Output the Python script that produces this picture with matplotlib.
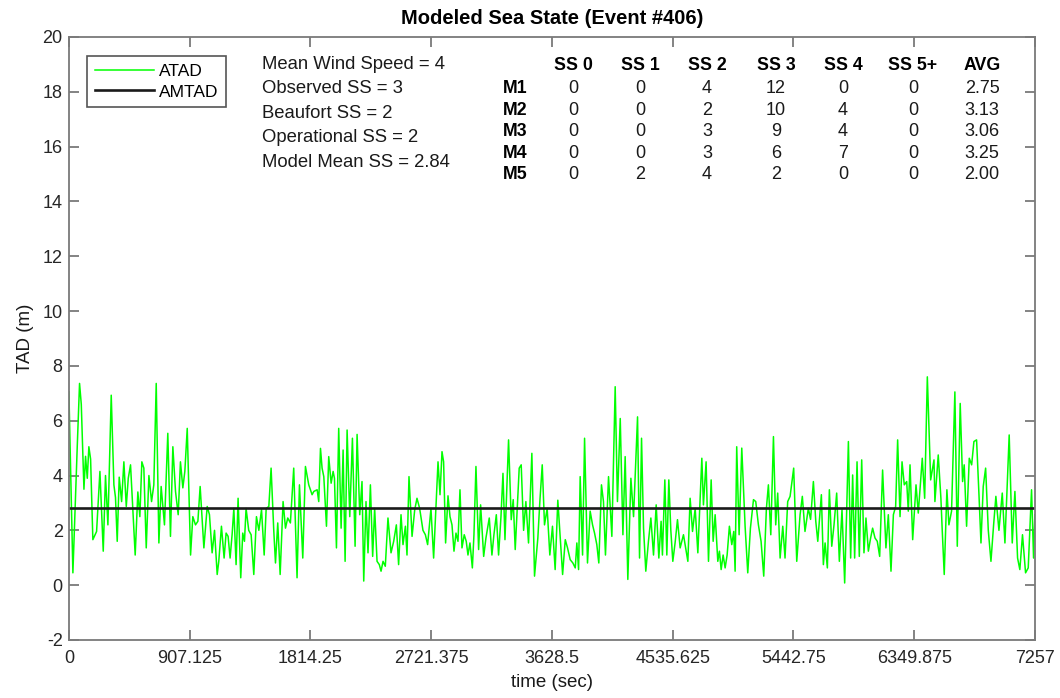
import matplotlib
matplotlib.use('Agg')
import matplotlib.pyplot as plt

plt.rcParams['font.family'] = ['Liberation Sans', 'DejaVu Sans']
plt.rcParams['axes.unicode_minus'] = False

# ATAD trace (time in seconds, TAD in metres)
t_sec = [
    0, 30, 63, 80, 93, 113, 125, 138, 150, 163, 180, 208, 233, 258, 275, 293, 318, 338, 350, 363,
    378, 396, 413, 431, 446, 463, 481, 498, 518, 533, 548, 563, 581, 601, 621, 638, 656, 676, 693, 718,
    743, 763, 781, 801, 821, 838, 856, 871,
    889, 914, 931, 951, 969, 986, 1014, 1039, 1056, 1076, 1094, 1114, 1126, 1146, 1166, 1181, 1196, 1211,
    1226, 1239, 1256, 1271, 1291, 1306, 1319, 1331, 1351, 1369, 1389, 1409, 1427, 1447, 1467, 1482, 1502,
    1519, 1539, 1552, 1569, 1587, 1609, 1627, 1644, 1664, 1689, 1714, 1732, 1757, 1777, 1802,
    1827, 1840, 1865, 1877, 1890, 1902, 1915, 1935, 1952, 1970, 1985, 1995, 2010, 2027, 2045, 2060, 2075,
    2090, 2110, 2130, 2150, 2165, 2185, 2202, 2215, 2232, 2247, 2265, 2282, 2297, 2315, 2332, 2345, 2360,
    2377, 2397, 2420, 2440, 2460, 2477, 2495, 2510, 2528, 2540, 2555, 2578, 2598, 2615, 2635, 2660, 2678,
    2695, 2720, 2740,
    2773, 2788, 2803, 2815, 2830, 2848, 2863, 2878, 2893, 2908, 2923, 2938, 2953, 2970, 2985, 2998, 3013,
    3031, 3043, 3058, 3078, 3093, 3116, 3133, 3158, 3178, 3193, 3211, 3228, 3246, 3261, 3276, 3303, 3323,
    3338, 3353, 3368, 3383, 3398, 3416, 3433, 3453, 3478, 3498, 3523, 3538, 3556, 3573, 3593, 3613, 3633,
    3653, 3673,
    3709, 3729, 3746, 3766, 3786, 3804, 3816, 3829, 3841, 3859, 3874, 3896, 3916, 3934, 3949, 3966, 3981,
    4001, 4016, 4031, 4054, 4079, 4104, 4121, 4142, 4162, 4179, 4199, 4222, 4242, 4272, 4287, 4302, 4317,
    4334, 4354, 4372, 4392, 4412, 4432, 4449, 4459, 4477, 4492, 4507, 4522, 4537, 4554, 4572, 4592, 4617,
    4650, 4667, 4685, 4705, 4725, 4755, 4767, 4787, 4805, 4825, 4840, 4855, 4875, 4887, 4900, 4915, 4930,
    4945, 4962, 4980, 4995, 5005, 5017, 5035, 5055, 5080, 5100, 5120, 5143, 5160, 5180, 5200, 5220, 5240,
    5255, 5273, 5293, 5310, 5325, 5343, 5363, 5380, 5400, 5418, 5445, 5468, 5493, 5510, 5530, 5555,
    5572, 5593, 5611, 5626, 5653, 5668, 5681, 5698, 5713, 5731, 5748, 5768, 5788, 5808, 5828, 5843, 5856,
    5873, 5888, 5903, 5921, 5938, 5956, 5973, 5988, 6006, 6023, 6038, 6056, 6073, 6091, 6113, 6138, 6156,
    6176, 6194, 6211, 6226, 6244, 6259, 6276, 6294, 6306, 6319, 6339, 6364, 6381, 6411, 6429, 6449, 6474,
    6499,
    6506, 6531, 6551, 6561, 6576, 6596, 6611, 6631, 6656, 6674, 6696, 6714, 6726, 6744, 6764, 6782, 6799,
    6819, 6837, 6852, 6869, 6887, 6907, 6927, 6947, 6964, 6987, 7012, 7032, 7064, 7087, 7107, 7127, 7144,
    7164, 7187, 7207, 7232, 7247, 7257,
]
atad = [
    7.05, 0.45, 5.1, 7.36, 6.6, 3.5, 4.7, 3.9, 5.05, 4.6, 1.66, 1.96, 4.15, 1.24, 4.0, 2.2, 6.93, 3.66, 3.2, 1.6,
    3.94, 3.05, 4.5, 2.87, 3.9, 4.39, 2.7, 1.1, 3.4, 2.5, 4.5, 4.27, 1.36, 4.0, 3.05, 3.66, 7.36, 1.54, 3.6, 2.2,
    5.54, 1.78, 5.05, 3.42, 2.57, 4.5, 3.55, 4.15,
    5.72, 1.1, 2.5, 2.2, 2.33, 3.6, 1.36, 2.87, 2.57, 1.18, 2.0, 0.39, 0.87, 2.15, 0.99, 1.9, 1.78, 0.99,
    1.84, 2.8, 0.75, 3.17, 0.27, 1.9, 1.6, 2.8, 2.0, 1.84, 0.39, 2.5, 2.0, 2.75, 1.1, 2.8, 2.87,
    4.27, 2.0, 0.81, 2.27, 0.39, 3.05, 2.08, 2.45, 2.27, 4.27, 0.27, 3.66, 0.99, 4.33, 3.66,
    3.3, 3.42, 3.48, 3.05, 4.99, 4.27, 3.96, 2.15, 4.69, 3.72, 4.15, 3.9, 1.36, 5.72, 2.08, 4.93, 0.87,
    5.66, 2.5, 5.36, 1.42, 5.5, 2.57, 3.78, 0.15, 3.05, 1.18, 3.66, 1.05, 2.8, 0.87, 0.75, 0.51, 0.87,
    0.69, 2.45, 1.18, 1.6, 2.2, 0.75, 2.57, 1.48, 2.15, 1.1, 3.96, 1.78, 2.75, 3.17, 2.8, 2.0, 1.84,
    1.48, 2.8, 0.99,
    4.5, 3.3, 4.87, 4.5, 1.54, 3.26, 2.5, 2.2, 1.24, 1.9, 1.6, 3.48, 1.36, 1.84, 1.6, 1.1, 1.54,
    0.63, 1.84, 4.33, 1.3, 2.93, 1.05, 1.72, 2.45, 1.1, 1.84, 2.57, 1.1, 2.5, 4.08, 1.66, 5.3, 2.39,
    3.12, 1.3, 2.8, 4.27, 4.39, 2.0, 3.05, 1.54, 4.81, 0.33, 1.72, 3.05, 4.39, 2.2, 2.8, 1.1, 2.15,
    0.57, 3.1,
    0.39, 1.66, 1.36, 0.93, 0.81, 0.63, 1.54, 0.57, 3.96, 1.1, 5.36, 0.81, 2.7, 2.2, 1.9, 1.48, 0.81,
    3.66, 3.05, 1.1, 3.96, 1.78, 7.24, 3.05, 6.08, 1.84, 4.69, 0.21, 3.9, 2.5, 6.14, 0.99, 5.36, 2.08,
    0.51, 1.6, 2.45, 1.1, 2.93, 0.99, 2.33, 1.1, 3.84, 1.1, 3.84, 2.0, 0.87, 1.54, 2.39, 1.36, 1.84,
    0.87, 3.17, 1.96, 2.8, 1.18, 4.63, 2.93, 4.5, 0.87, 3.84, 1.6, 2.57, 0.87, 1.24, 0.57, 1.1, 0.63,
    1.1, 2.15, 1.48, 1.96, 0.51, 5.05, 1.84, 5.0, 2.15, 0.45, 2.08, 3.12, 3.05, 2.2, 1.6, 0.33, 2.8,
    3.66, 1.84, 5.42, 2.2, 3.36, 0.99, 2.15, 0.99, 3.05, 3.24, 4.27, 0.87, 2.57, 3.24, 1.96, 2.8,
    2.4, 3.78, 2.33, 1.6, 3.3, 0.75, 1.54, 0.63, 3.48, 1.42, 2.2, 3.36, 0.87, 2.75, 0.08, 2.7, 5.24,
    0.99, 4.02, 0.99, 4.5, 1.05, 4.57, 1.18, 2.45, 1.24, 1.72, 2.08, 1.72, 1.6, 1.05, 4.2, 1.36, 2.57,
    0.51, 2.57, 2.87, 5.3, 2.5, 4.5, 3.66, 3.78, 2.7, 4.39, 1.66, 3.66, 2.63, 4.63, 3.17, 7.6, 3.84,
    4.57,
    3.05, 4.75, 3.17, 2.0, 0.39, 3.48, 2.2, 2.7, 7.05, 1.42, 6.63, 3.78, 4.39, 2.15, 4.63, 4.39, 5.24,
    5.3, 3.3, 1.54, 3.6, 4.27, 2.0, 0.87, 2.2, 3.24, 2.0, 3.36, 1.54, 5.48, 1.54, 3.42, 0.99, 0.57,
    1.84, 0.45, 0.63, 3.48, 0.99, 2.57,
]
amtad = 2.82
t_end = 7257

info_lines = ['Mean Wind Speed = 4', 'Observed SS = 3', 'Beaufort SS = 2',
              'Operational SS = 2', 'Model Mean SS = 2.84']

col_heads = ['SS 0', 'SS 1', 'SS 2', 'SS 3', 'SS 4', 'SS 5+', 'AVG']
row_heads = ['M1', 'M2', 'M3', 'M4', 'M5']
ss_counts = [
    [0, 0, 4, 12, 0, 0],
    [0, 0, 2, 10, 4, 0],
    [0, 0, 3, 9, 4, 0],
    [0, 0, 3, 6, 7, 0],
    [0, 2, 4, 2, 0, 0],
]
ss_avg = ['2.75', '3.13', '3.06', '3.25', '2.00']

fig = plt.figure(figsize=(10.6, 6.98), dpi=100)
ax = fig.add_axes([0.065, 0.0831, 0.9113, 0.864])

ax.plot(t_sec, atad, color='#00ff00', lw=1.1, label='ATAD')
ax.plot([0, t_end], [amtad, amtad], color='#1a1a1a', lw=1.9, label='AMTAD')

ax.set_xlim(0, t_end)
ax.set_ylim(-2, 20)
xt = [t_end * i / 8 for i in range(9)]
ax.set_xticks(xt)
ax.set_xticklabels(['0', '907.125', '1814.25', '2721.375', '3628.5', '4535.625',
                    '5442.75', '6349.875', '7257'])
ax.set_yticks(range(-2, 21, 2))

for s in ax.spines.values():
    s.set_color('#7a7a7a')
    s.set_linewidth(1.3)
ax.tick_params(direction='in', top=True, right=True, length=7, width=1.3,
               color='#7a7a7a', labelsize=13, labelcolor='#262626')
ax.tick_params(axis='x', pad=7)
ax.tick_params(axis='y', pad=4.5)

ax.set_title('Modeled Sea State (Event #406)', fontsize=14.5, fontweight='bold', pad=9)
ax.set_xlabel('time (sec)', fontsize=13.5, labelpad=5, color='#1a1a1a')
ax.set_ylabel('TAD (m)', fontsize=13.5, labelpad=6, color='#1a1a1a')

leg = ax.legend(loc='upper left', bbox_to_anchor=(0.0186, 0.968), borderaxespad=0,
                fancybox=False, framealpha=1, edgecolor='#555555', fontsize=12.5,
                handlelength=3.4, handletextpad=0.3, borderpad=0.45, labelspacing=0.3)
leg.get_frame().set_linewidth(1.2)

# run summary on the left
for i, s in enumerate(info_lines):
    ax.text(1450, 19.01 - i * 0.895, s, fontsize=13.3, va='center', ha='left', color='#1a1a1a')

# sea state count table
col_x = [3787, 4290, 4793, 5312, 5815, 6341, 6860]
for j, h in enumerate(col_heads):
    ax.text(col_x[j], 18.95, h, fontsize=12.8, fontweight='bold', ha='center', va='center')
for i, r in enumerate(row_heads):
    y = 18.11 - i * 0.785
    ax.text(3261, y, r, fontsize=12.8, fontweight='bold', ha='left', va='center')
    for j, v in enumerate(ss_counts[i]):
        ax.text(col_x[j], y, str(v), fontsize=13, ha='center', va='center', color='#1a1a1a')
    ax.text(col_x[6], y, ss_avg[i], fontsize=13, ha='center', va='center', color='#1a1a1a')

fig.savefig('out.png', dpi=100, facecolor='white')
